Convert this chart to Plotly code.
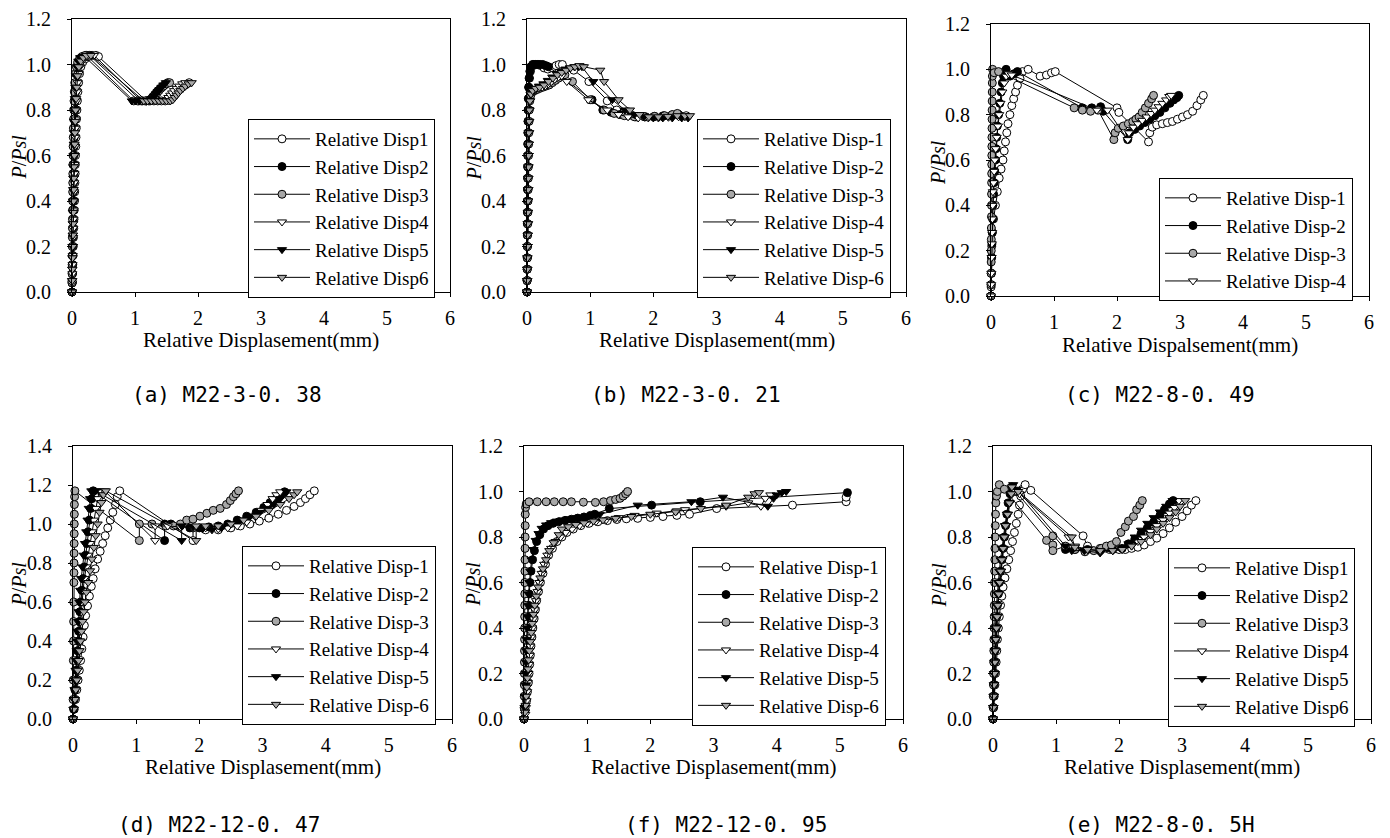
import plotly.graph_objects as go

# ---------------- data ----------------
# Panel (a) M22-3-0.38 : (x = relative displacement mm, y = P/Psl)
A1 = [(0,0),(0.004,0.04),(0.008,0.08),(0.012,0.12),(0.016,0.16),(0.02,0.2),(0.024,0.24),(0.028,0.28),(0.032,0.32),(0.036,0.36),(0.04,0.4),(0.043,0.44),(0.046,0.48),(0.05,0.52),(0.053,0.56),(0.056,0.6),(0.06,0.64),(0.064,0.68),(0.068,0.72),(0.072,0.76),(0.078,0.8),(0.085,0.84),(0.094,0.88),(0.105,0.92),(0.12,0.96),(0.14,0.99),(0.17,1.01),(0.21,1.025),(0.26,1.035),(0.32,1.04),(0.38,1.04),(0.42,1.035),(1.18,0.84),(1.24,0.84),(1.3,0.84),(1.36,0.84),(1.42,0.84),(1.48,0.84),(1.54,0.842),(1.58,0.85),(1.61,0.86),(1.64,0.87),(1.67,0.88),(1.71,0.89),(1.75,0.9),(1.8,0.91),(1.86,0.92)]
A2 = [(0,0),(0.002,0.04),(0.004,0.08),(0.006,0.12),(0.008,0.16),(0.01,0.2),(0.012,0.24),(0.014,0.28),(0.016,0.32),(0.018,0.36),(0.02,0.4),(0.022,0.44),(0.024,0.48),(0.026,0.52),(0.028,0.56),(0.03,0.6),(0.032,0.64),(0.035,0.68),(0.038,0.72),(0.042,0.76),(0.046,0.8),(0.05,0.84),(0.056,0.88),(0.064,0.92),(0.075,0.96),(0.09,0.99),(0.11,1.01),(0.14,1.025),(0.18,1.035),(0.23,1.04),(0.28,1.04),(1.06,0.84),(1.12,0.84),(1.18,0.84),(1.23,0.843),(1.26,0.85),(1.29,0.86),(1.32,0.87),(1.35,0.88),(1.39,0.89),(1.43,0.9),(1.47,0.91),(1.52,0.92)]
A3 = [(0,0),(0.001,0.04),(0.002,0.08),(0.003,0.12),(0.004,0.16),(0.005,0.2),(0.006,0.24),(0.007,0.28),(0.008,0.32),(0.009,0.36),(0.01,0.4),(0.011,0.44),(0.012,0.48),(0.013,0.52),(0.014,0.56),(0.016,0.6),(0.018,0.64),(0.02,0.68),(0.022,0.72),(0.025,0.76),(0.028,0.8),(0.032,0.84),(0.037,0.88),(0.044,0.92),(0.055,0.96),(0.07,0.99),(0.09,1.01),(0.12,1.025),(0.16,1.035),(0.21,1.04),(0.25,1.035),(0.98,0.84),(1.04,0.84),(1.1,0.84),(1.16,0.84),(1.22,0.84),(1.26,0.845),(1.29,0.855),(1.32,0.865),(1.35,0.875),(1.38,0.885),(1.41,0.895),(1.45,0.905),(1.5,0.915),(1.55,0.92)]
A4 = [(0,0),(0.003,0.04),(0.006,0.08),(0.009,0.12),(0.012,0.16),(0.015,0.2),(0.018,0.24),(0.021,0.28),(0.024,0.32),(0.027,0.36),(0.03,0.4),(0.033,0.44),(0.036,0.48),(0.039,0.52),(0.042,0.56),(0.045,0.6),(0.048,0.64),(0.052,0.68),(0.056,0.72),(0.06,0.76),(0.065,0.8),(0.072,0.84),(0.08,0.88),(0.09,0.92),(0.105,0.96),(0.125,0.99),(0.15,1.01),(0.19,1.025),(0.24,1.035),(0.3,1.04),(0.35,1.04),(1.1,0.84),(1.16,0.84),(1.22,0.84),(1.28,0.84),(1.34,0.84),(1.4,0.84),(1.46,0.84),(1.5,0.845),(1.53,0.855),(1.56,0.865),(1.59,0.875),(1.62,0.885),(1.66,0.895),(1.7,0.905),(1.75,0.915),(1.8,0.92)]
A5 = [(0,0),(0.002,0.05),(0.004,0.1),(0.006,0.15),(0.008,0.2),(0.01,0.25),(0.012,0.3),(0.014,0.35),(0.016,0.4),(0.018,0.45),(0.02,0.5),(0.022,0.55),(0.024,0.6),(0.027,0.65),(0.03,0.7),(0.034,0.75),(0.039,0.8),(0.045,0.85),(0.053,0.9),(0.065,0.95),(0.08,0.99),(0.1,1.015),(0.13,1.03),(0.17,1.035),(0.2,1.035),(0.95,0.84),(1.01,0.84),(1.07,0.84),(1.13,0.84),(1.19,0.84),(1.24,0.842),(1.27,0.85),(1.3,0.86),(1.33,0.87),(1.36,0.88),(1.39,0.89),(1.42,0.9),(1.45,0.91),(1.49,0.92)]
A6 = [(0,0),(0.003,0.05),(0.006,0.1),(0.009,0.15),(0.012,0.2),(0.015,0.25),(0.018,0.3),(0.021,0.35),(0.024,0.4),(0.027,0.45),(0.03,0.5),(0.034,0.55),(0.038,0.6),(0.042,0.65),(0.047,0.7),(0.052,0.75),(0.058,0.8),(0.066,0.85),(0.076,0.9),(0.09,0.95),(0.11,0.99),(0.14,1.015),(0.18,1.03),(0.23,1.04),(0.3,1.04),(1.14,0.84),(1.2,0.84),(1.26,0.84),(1.32,0.84),(1.38,0.84),(1.44,0.84),(1.5,0.84),(1.56,0.84),(1.6,0.845),(1.63,0.855),(1.66,0.865),(1.69,0.875),(1.72,0.885),(1.76,0.895),(1.8,0.905),(1.85,0.915),(1.9,0.92)]

# Panel (b) M22-3-0.21
B1 = [(0,0),(0.002,0.05),(0.003,0.1),(0.004,0.15),(0.005,0.2),(0.006,0.25),(0.007,0.3),(0.008,0.35),(0.009,0.4),(0.01,0.45),(0.011,0.5),(0.012,0.55),(0.013,0.6),(0.014,0.65),(0.016,0.7),(0.018,0.75),(0.02,0.8),(0.024,0.85),(0.03,0.9),(0.04,0.94),(0.055,0.97),(0.075,0.99),(0.1,1.0),(0.14,1.0),(0.18,1.0),(0.22,0.995),(0.27,0.985),(0.33,0.98),(0.4,0.985),(0.46,0.995),(0.51,1.0),(0.56,1.0),(0.74,0.975),(0.98,0.925),(1.27,0.84),(1.42,0.8),(1.58,0.78),(1.72,0.77),(1.86,0.77),(2.0,0.77),(2.14,0.772),(2.28,0.775),(2.42,0.775),(2.52,0.775)]
B2 = [(0,0),(0.001,0.05),(0.002,0.1),(0.003,0.15),(0.004,0.2),(0.005,0.25),(0.006,0.3),(0.007,0.35),(0.008,0.4),(0.009,0.45),(0.01,0.5),(0.011,0.55),(0.012,0.6),(0.013,0.65),(0.014,0.7),(0.016,0.75),(0.018,0.8),(0.021,0.85),(0.026,0.9),(0.033,0.94),(0.045,0.97),(0.06,0.99),(0.09,1.0),(0.13,1.0),(0.17,1.0),(0.21,1.0),(0.25,1.0),(0.3,0.995),(0.34,0.99),(1.03,0.845),(1.2,0.8),(1.33,0.79),(1.47,0.78),(1.6,0.775),(1.74,0.77),(1.88,0.77),(2.02,0.772),(2.16,0.775),(2.3,0.778),(2.4,0.78)]
B3 = [(0,0),(0.003,0.05),(0.005,0.1),(0.007,0.15),(0.009,0.2),(0.011,0.25),(0.013,0.3),(0.015,0.35),(0.017,0.4),(0.019,0.45),(0.021,0.5),(0.023,0.55),(0.025,0.6),(0.027,0.65),(0.03,0.7),(0.033,0.75),(0.037,0.8),(0.045,0.84),(0.06,0.865),(0.085,0.88),(0.12,0.885),(0.16,0.89),(0.2,0.895),(0.25,0.9),(0.3,0.905),(0.35,0.91),(0.4,0.92),(0.45,0.93),(0.5,0.94),(0.55,0.95),(0.6,0.955),(0.72,0.925),(1.0,0.845),(1.22,0.8),(1.38,0.785),(1.54,0.775),(1.7,0.77),(1.86,0.77),(2.02,0.772),(2.18,0.775),(2.3,0.78),(2.38,0.785)]
B4 = [(0,0),(0.004,0.05),(0.006,0.1),(0.008,0.15),(0.01,0.2),(0.012,0.25),(0.014,0.3),(0.016,0.35),(0.018,0.4),(0.02,0.45),(0.022,0.5),(0.024,0.55),(0.026,0.6),(0.028,0.65),(0.031,0.7),(0.035,0.75),(0.04,0.8),(0.05,0.84),(0.068,0.87),(0.1,0.885),(0.14,0.89),(0.19,0.895),(0.24,0.9),(0.29,0.905),(0.34,0.915),(0.39,0.925),(0.44,0.935),(0.5,0.945),(0.55,0.95),(0.63,0.925),(0.97,0.845),(1.27,0.8),(1.45,0.78),(1.6,0.77),(1.76,0.765),(1.92,0.765),(2.08,0.765),(2.24,0.768),(2.4,0.77),(2.5,0.77)]
B5 = [(0,0),(0.002,0.05),(0.004,0.1),(0.006,0.15),(0.008,0.2),(0.01,0.25),(0.012,0.3),(0.014,0.35),(0.016,0.4),(0.018,0.45),(0.02,0.5),(0.022,0.55),(0.024,0.6),(0.026,0.65),(0.029,0.7),(0.032,0.75),(0.036,0.8),(0.042,0.84),(0.055,0.87),(0.08,0.885),(0.13,0.895),(0.19,0.905),(0.26,0.915),(0.33,0.93),(0.4,0.945),(0.47,0.96),(0.54,0.97),(0.61,0.98),(0.68,0.985),(0.75,0.99),(0.82,0.99),(0.87,0.99),(1.05,0.925),(1.35,0.845),(1.55,0.8),(1.7,0.78),(1.85,0.77),(2.0,0.765),(2.15,0.765),(2.3,0.765),(2.45,0.765),(2.55,0.765)]
B6 = [(0,0),(0.003,0.05),(0.005,0.1),(0.007,0.15),(0.009,0.2),(0.011,0.25),(0.013,0.3),(0.015,0.35),(0.017,0.4),(0.019,0.45),(0.021,0.5),(0.023,0.55),(0.025,0.6),(0.027,0.65),(0.03,0.7),(0.034,0.75),(0.039,0.8),(0.047,0.84),(0.062,0.87),(0.09,0.885),(0.14,0.895),(0.2,0.9),(0.27,0.91),(0.34,0.925),(0.41,0.94),(0.48,0.955),(0.55,0.965),(0.62,0.975),(0.69,0.985),(0.76,0.99),(0.83,0.995),(0.9,0.99),(1.16,0.975),(1.22,0.925),(1.45,0.845),(1.63,0.8),(1.78,0.78),(1.93,0.77),(2.08,0.77),(2.23,0.772),(2.38,0.775),(2.5,0.775),(2.58,0.775)]

# Panel (c) M22-8-0.49
C1 = [(0,0),(0.002,0.04),(0.004,0.1),(0.008,0.17),(0.012,0.22),(0.02,0.28),(0.04,0.34),(0.07,0.4),(0.1,0.46),(0.13,0.52),(0.16,0.56),(0.19,0.6),(0.21,0.64),(0.23,0.68),(0.25,0.72),(0.27,0.76),(0.3,0.8),(0.33,0.84),(0.36,0.87),(0.39,0.9),(0.42,0.93),(0.46,0.96),(0.5,0.99),(0.59,1.0),(0.78,0.97),(0.88,0.975),(0.96,0.985),(1.02,0.99),(2.0,0.83),(2.03,0.81),(2.5,0.68),(2.52,0.72),(2.56,0.745),(2.63,0.755),(2.72,0.76),(2.8,0.765),(2.88,0.77),(2.96,0.78),(3.04,0.79),(3.12,0.8),(3.2,0.815),(3.27,0.84),(3.33,0.865),(3.37,0.885)]
C2 = [(0,0),(0.003,0.05),(0.006,0.1),(0.01,0.17),(0.015,0.23),(0.02,0.28),(0.025,0.34),(0.03,0.4),(0.04,0.45),(0.05,0.5),(0.06,0.55),(0.07,0.6),(0.08,0.65),(0.09,0.7),(0.1,0.75),(0.12,0.8),(0.14,0.85),(0.16,0.9),(0.18,0.94),(0.2,0.97),(0.22,0.99),(0.24,1.0),(0.3,0.97),(0.36,0.98),(0.42,0.99),(1.45,0.83),(1.6,0.83),(1.74,0.835),(1.78,0.815),(2.17,0.69),(2.2,0.72),(2.28,0.735),(2.36,0.75),(2.44,0.765),(2.52,0.78),(2.6,0.795),(2.68,0.81),(2.76,0.83),(2.84,0.85),(2.9,0.865),(2.95,0.875),(2.98,0.885)]
C3 = [(0,0),(0.001,0.05),(0.002,0.1),(0.003,0.15),(0.004,0.2),(0.005,0.25),(0.006,0.3),(0.007,0.35),(0.008,0.4),(0.009,0.45),(0.01,0.5),(0.011,0.54),(0.012,0.58),(0.013,0.62),(0.014,0.66),(0.015,0.7),(0.016,0.74),(0.017,0.78),(0.018,0.82),(0.019,0.86),(0.02,0.9),(0.021,0.94),(0.022,0.97),(0.025,1.0),(0.05,0.985),(0.12,0.99),(1.32,0.83),(1.45,0.82),(1.58,0.815),(1.7,0.82),(1.95,0.69),(1.97,0.72),(2.02,0.74),(2.1,0.75),(2.18,0.76),(2.25,0.77),(2.3,0.78),(2.35,0.79),(2.4,0.81),(2.45,0.83),(2.5,0.85),(2.55,0.87),(2.58,0.885)]
C4 = [(0,0),(0.003,0.05),(0.006,0.1),(0.01,0.17),(0.014,0.23),(0.018,0.28),(0.022,0.34),(0.026,0.4),(0.03,0.46),(0.04,0.5),(0.05,0.55),(0.06,0.6),(0.075,0.65),(0.09,0.7),(0.11,0.75),(0.13,0.8),(0.15,0.85),(0.18,0.9),(0.21,0.94),(0.24,0.97),(0.28,0.98),(0.33,0.975),(1.68,0.82),(1.85,0.82),(2.17,0.69),(2.19,0.72),(2.26,0.745),(2.33,0.76),(2.4,0.775),(2.47,0.79),(2.54,0.805),(2.6,0.82),(2.66,0.835),(2.72,0.85),(2.78,0.865),(2.83,0.88),(2.86,0.885)]

# Panel (d) M22-12-0.47
D1 = [(0,0),(0.02,0.05),(0.04,0.1),(0.06,0.15),(0.08,0.2),(0.1,0.25),(0.12,0.3),(0.14,0.36),(0.16,0.42),(0.18,0.48),(0.2,0.53),(0.23,0.58),(0.26,0.63),(0.29,0.68),(0.32,0.72),(0.35,0.77),(0.39,0.82),(0.43,0.86),(0.47,0.9),(0.51,0.94),(0.55,0.98),(0.59,1.02),(0.63,1.06),(0.67,1.1),(0.7,1.14),(0.74,1.17),(1.9,0.915),(1.9,0.98),(2.1,0.97),(2.3,0.97),(2.5,0.98),(2.65,0.99),(2.8,1.0),(2.95,1.015),(3.1,1.03),(3.25,1.05),(3.38,1.07),(3.5,1.09),(3.6,1.11),(3.68,1.13),(3.75,1.15),(3.82,1.17)]
D2 = [(0,0),(0.01,0.05),(0.02,0.1),(0.03,0.15),(0.04,0.2),(0.05,0.25),(0.06,0.3),(0.07,0.35),(0.08,0.4),(0.09,0.45),(0.1,0.5),(0.11,0.55),(0.12,0.6),(0.14,0.66),(0.16,0.72),(0.18,0.78),(0.2,0.84),(0.22,0.9),(0.24,0.96),(0.26,1.02),(0.28,1.08),(0.3,1.13),(0.32,1.17),(1.45,0.915),(1.45,1.0),(1.55,1.0),(1.7,0.99),(1.85,0.98),(2.0,0.98),(2.15,0.985),(2.3,0.99),(2.45,1.0),(2.6,1.02),(2.75,1.04),(2.9,1.06),(3.02,1.085),(3.12,1.11),(3.22,1.13),(3.3,1.15),(3.35,1.165)]
D3 = [(0,0),(0.002,0.1),(0.004,0.2),(0.006,0.3),(0.008,0.4),(0.01,0.5),(0.012,0.6),(0.014,0.7),(0.015,0.75),(0.016,0.8),(0.017,0.85),(0.018,0.9),(0.019,0.95),(0.02,1.0),(0.021,1.05),(0.022,1.1),(0.025,1.14),(0.03,1.17),(1.05,0.915),(1.05,1.0),(1.25,1.0),(1.47,0.99),(1.59,0.99),(1.7,1.0),(1.8,1.02),(1.9,1.025),(2.01,1.04),(2.12,1.055),(2.22,1.07),(2.33,1.08),(2.43,1.1),(2.49,1.12),(2.54,1.14),(2.58,1.155),(2.62,1.17)]
D4 = [(0,0),(0.01,0.05),(0.02,0.1),(0.03,0.15),(0.045,0.2),(0.06,0.25),(0.075,0.3),(0.09,0.35),(0.1,0.4),(0.11,0.45),(0.12,0.5),(0.13,0.55),(0.14,0.6),(0.16,0.66),(0.18,0.72),(0.21,0.78),(0.24,0.84),(0.27,0.9),(0.3,0.96),(0.33,1.02),(0.36,1.08),(0.39,1.13),(0.42,1.17),(0.5,1.17),(1.3,0.915),(1.3,0.99),(1.5,0.99),(1.7,0.985),(1.9,0.98),(2.1,0.98),(2.3,0.975),(2.45,0.98),(2.6,0.99),(2.75,1.01),(2.88,1.04),(2.98,1.07),(3.08,1.1),(3.16,1.13),(3.22,1.15),(3.28,1.165)]
D5 = [(0,0),(0.008,0.05),(0.016,0.1),(0.024,0.15),(0.032,0.2),(0.04,0.25),(0.048,0.3),(0.056,0.35),(0.064,0.4),(0.072,0.45),(0.08,0.5),(0.09,0.55),(0.1,0.6),(0.115,0.66),(0.13,0.72),(0.15,0.78),(0.17,0.84),(0.19,0.9),(0.21,0.96),(0.23,1.02),(0.25,1.08),(0.27,1.13),(0.29,1.17),(0.36,1.17),(1.72,0.915),(1.72,0.99),(1.9,0.985),(2.05,0.975),(2.2,0.97),(2.35,0.98),(2.5,1.0),(2.65,1.02),(2.8,1.04),(2.95,1.06),(3.08,1.08),(3.18,1.1),(3.28,1.13),(3.38,1.165)]
D6 = [(0,0),(0.015,0.05),(0.03,0.1),(0.045,0.15),(0.06,0.2),(0.075,0.25),(0.09,0.3),(0.105,0.35),(0.12,0.4),(0.135,0.45),(0.15,0.5),(0.17,0.55),(0.19,0.6),(0.21,0.65),(0.24,0.7),(0.27,0.76),(0.3,0.82),(0.33,0.88),(0.36,0.94),(0.39,1.0),(0.42,1.06),(0.45,1.11),(0.48,1.15),(0.52,1.17),(1.95,0.915),(1.95,0.99),(2.1,0.99),(2.3,0.99),(2.5,1.0),(2.7,1.02),(2.9,1.04),(3.1,1.07),(3.28,1.1),(3.42,1.13),(3.5,1.15),(3.55,1.165)]

# Panel (f) M22-12-0.95
F1 = [(0,0),(0.02,0.04),(0.04,0.08),(0.055,0.12),(0.07,0.16),(0.08,0.2),(0.09,0.24),(0.1,0.28),(0.11,0.32),(0.125,0.36),(0.14,0.4),(0.16,0.44),(0.18,0.48),(0.2,0.52),(0.23,0.56),(0.26,0.6),(0.3,0.64),(0.34,0.68),(0.39,0.72),(0.45,0.75),(0.52,0.78),(0.6,0.8),(0.68,0.82),(0.78,0.835),(0.9,0.85),(1.03,0.86),(1.17,0.867),(1.32,0.872),(1.47,0.877),(1.62,0.88),(1.8,0.882),(2.0,0.886),(2.2,0.89),(2.42,0.895),(2.62,0.9),(3.05,0.925),(4.25,0.94),(5.1,0.955),(5.1,0.975)]
F2 = [(0,0),(0.01,0.05),(0.02,0.1),(0.025,0.15),(0.03,0.2),(0.035,0.25),(0.04,0.3),(0.045,0.35),(0.05,0.4),(0.06,0.45),(0.07,0.5),(0.08,0.55),(0.095,0.6),(0.11,0.65),(0.135,0.7),(0.165,0.74),(0.2,0.78),(0.25,0.81),(0.31,0.835),(0.38,0.85),(0.46,0.86),(0.55,0.867),(0.65,0.873),(0.75,0.878),(0.85,0.883),(0.95,0.888),(1.05,0.895),(1.12,0.9),(1.35,0.925),(2.02,0.94),(2.79,0.955),(5.12,0.995)]
F3 = [(0,0),(0.002,0.05),(0.004,0.1),(0.005,0.15),(0.006,0.2),(0.007,0.25),(0.008,0.3),(0.009,0.35),(0.01,0.4),(0.011,0.45),(0.012,0.5),(0.013,0.55),(0.014,0.6),(0.015,0.65),(0.016,0.7),(0.017,0.75),(0.018,0.8),(0.019,0.85),(0.02,0.9),(0.025,0.93),(0.035,0.945),(0.08,0.955),(0.21,0.955),(0.35,0.955),(0.48,0.955),(0.62,0.955),(0.75,0.955),(0.94,0.953),(1.13,0.952),(1.26,0.955),(1.37,0.96),(1.45,0.965),(1.52,0.97),(1.57,0.98),(1.61,0.99),(1.64,1.0)]
F4 = [(0,0),(0.02,0.02),(0.03,0.05),(0.04,0.08),(0.05,0.12),(0.06,0.16),(0.07,0.2),(0.08,0.24),(0.09,0.28),(0.1,0.32),(0.115,0.36),(0.13,0.4),(0.15,0.44),(0.17,0.48),(0.19,0.52),(0.215,0.56),(0.245,0.6),(0.28,0.64),(0.32,0.68),(0.37,0.72),(0.43,0.75),(0.5,0.78),(0.58,0.8),(0.66,0.82),(0.76,0.835),(0.88,0.85),(1.0,0.86),(1.14,0.868),(1.3,0.875),(1.5,0.885),(1.75,0.895),(2.1,0.905),(2.42,0.915),(2.55,0.92),(3.2,0.935),(3.55,0.95),(3.75,0.935),(3.82,0.97),(3.9,0.985)]
F5 = [(0,0),(0.008,0.05),(0.016,0.1),(0.022,0.15),(0.027,0.2),(0.032,0.25),(0.037,0.3),(0.042,0.35),(0.048,0.4),(0.055,0.45),(0.063,0.5),(0.072,0.55),(0.085,0.6),(0.1,0.65),(0.12,0.7),(0.15,0.745),(0.185,0.785),(0.23,0.815),(0.28,0.838),(0.35,0.853),(0.43,0.863),(0.52,0.87),(0.62,0.875),(0.72,0.88),(0.85,0.885),(1.0,0.89),(1.2,0.9),(1.8,0.94),(2.65,0.955),(3.15,0.975),(3.86,0.935),(3.95,0.97),(4.0,0.985),(4.08,0.995),(4.15,1.0)]
F6 = [(0,0),(0.015,0.03),(0.025,0.06),(0.035,0.1),(0.045,0.14),(0.055,0.18),(0.065,0.22),(0.075,0.26),(0.085,0.3),(0.1,0.34),(0.115,0.38),(0.13,0.42),(0.15,0.46),(0.17,0.5),(0.195,0.54),(0.225,0.58),(0.26,0.62),(0.3,0.66),(0.35,0.7),(0.4,0.74),(0.47,0.775),(0.55,0.81),(0.6,0.835),(0.7,0.845),(0.82,0.855),(0.95,0.862),(1.1,0.87),(1.25,0.875),(1.45,0.882),(1.7,0.89),(2.0,0.9),(2.4,0.91),(2.8,0.925),(3.2,0.94),(3.55,0.975),(3.65,0.99),(3.72,0.995)]

# Panel (e) M22-8-0.5H
E1 = [(0,0),(0.01,0.05),(0.02,0.1),(0.03,0.15),(0.04,0.2),(0.05,0.25),(0.06,0.3),(0.07,0.35),(0.085,0.4),(0.1,0.45),(0.12,0.5),(0.14,0.54),(0.16,0.58),(0.19,0.62),(0.22,0.66),(0.25,0.7),(0.28,0.74),(0.31,0.78),(0.34,0.82),(0.37,0.86),(0.4,0.9),(0.42,0.94),(0.44,0.98),(0.47,1.01),(0.51,1.03),(0.6,1.005),(1.43,0.805),(1.5,0.76),(1.7,0.75),(1.85,0.745),(2.0,0.745),(2.1,0.745),(2.2,0.75),(2.3,0.755),(2.4,0.765),(2.5,0.78),(2.6,0.795),(2.7,0.815),(2.8,0.84),(2.9,0.865),(3.0,0.89),(3.08,0.915),(3.15,0.94),(3.22,0.96)]
E2 = [(0,0),(0.005,0.05),(0.01,0.1),(0.015,0.15),(0.02,0.2),(0.025,0.25),(0.03,0.3),(0.04,0.35),(0.05,0.4),(0.06,0.45),(0.07,0.5),(0.085,0.55),(0.1,0.6),(0.12,0.65),(0.14,0.7),(0.16,0.75),(0.18,0.8),(0.2,0.85),(0.22,0.9),(0.24,0.95),(0.27,0.99),(0.3,1.02),(0.36,1.0),(1.15,0.745),(1.3,0.745),(1.5,0.745),(1.7,0.74),(1.9,0.745),(2.05,0.75),(2.15,0.77),(2.25,0.79),(2.35,0.815),(2.45,0.84),(2.55,0.865),(2.65,0.895),(2.72,0.92),(2.8,0.945),(2.86,0.96)]
E3 = [(0,0),(0.003,0.05),(0.005,0.1),(0.007,0.15),(0.009,0.2),(0.011,0.25),(0.013,0.3),(0.015,0.35),(0.017,0.4),(0.019,0.45),(0.021,0.5),(0.023,0.55),(0.025,0.6),(0.027,0.65),(0.029,0.7),(0.031,0.75),(0.033,0.8),(0.036,0.85),(0.04,0.9),(0.045,0.95),(0.055,0.98),(0.07,1.0),(0.1,1.03),(0.18,1.01),(0.85,0.785),(0.95,0.805),(0.95,0.765),(0.95,0.74),(1.15,0.76),(1.3,0.745),(1.46,0.735),(1.6,0.74),(1.72,0.75),(1.8,0.76),(1.88,0.765),(1.96,0.78),(2.03,0.82),(2.1,0.845),(2.15,0.87),(2.23,0.89),(2.28,0.92),(2.33,0.94),(2.37,0.96)]
E4 = [(0,0),(0.007,0.05),(0.014,0.1),(0.021,0.15),(0.028,0.2),(0.035,0.25),(0.042,0.3),(0.05,0.35),(0.06,0.4),(0.07,0.45),(0.08,0.5),(0.095,0.55),(0.11,0.6),(0.13,0.65),(0.15,0.7),(0.17,0.75),(0.19,0.8),(0.21,0.85),(0.24,0.9),(0.27,0.95),(0.3,0.99),(0.35,1.0),(0.42,0.99),(1.2,0.8),(1.3,0.76),(1.5,0.745),(1.7,0.74),(1.9,0.74),(2.05,0.745),(2.2,0.76),(2.3,0.78),(2.4,0.8),(2.5,0.825),(2.6,0.85),(2.7,0.875),(2.8,0.905),(2.88,0.93),(2.95,0.96)]
E5 = [(0,0),(0.004,0.05),(0.008,0.1),(0.012,0.15),(0.016,0.2),(0.02,0.25),(0.025,0.3),(0.03,0.35),(0.037,0.4),(0.045,0.45),(0.055,0.5),(0.067,0.55),(0.08,0.6),(0.1,0.65),(0.12,0.7),(0.14,0.75),(0.165,0.8),(0.19,0.85),(0.22,0.9),(0.25,0.95),(0.28,0.99),(0.32,1.03),(0.38,1.01),(1.15,0.76),(1.25,0.74),(1.45,0.74),(1.7,0.73),(1.9,0.74),(2.05,0.75),(2.15,0.77),(2.25,0.8),(2.35,0.83),(2.45,0.86),(2.55,0.885),(2.65,0.91),(2.75,0.935),(2.85,0.96)]
E6 = [(0,0),(0.006,0.05),(0.012,0.1),(0.018,0.15),(0.024,0.2),(0.03,0.25),(0.037,0.3),(0.045,0.35),(0.055,0.4),(0.065,0.45),(0.076,0.5),(0.09,0.55),(0.105,0.6),(0.12,0.65),(0.14,0.7),(0.16,0.75),(0.18,0.8),(0.2,0.85),(0.23,0.9),(0.26,0.95),(0.29,0.99),(0.3,1.02),(0.4,1.0),(1.25,0.8),(1.3,0.755),(1.5,0.745),(1.7,0.74),(1.9,0.74),(2.05,0.745),(2.2,0.76),(2.35,0.78),(2.5,0.81),(2.6,0.835),(2.7,0.86),(2.8,0.885),(2.9,0.91),(2.97,0.935),(3.05,0.96)]

NAMES_PLAIN = ["Relative Disp1", "Relative Disp2", "Relative Disp3",
               "Relative Disp4", "Relative Disp5", "Relative Disp6"]
NAMES_DASH = ["Relative Disp-1", "Relative Disp-2", "Relative Disp-3",
              "Relative Disp-4", "Relative Disp-5", "Relative Disp-6"]
X_TICKS = [0, 1, 2, 3, 4, 5, 6]
Y_TICKS_12 = [0.0, 0.2, 0.4, 0.6, 0.8, 1.0, 1.2]
Y_TICKS_14 = [0.0, 0.2, 0.4, 0.6, 0.8, 1.0, 1.2, 1.4]

# ---------------- styling / layout ----------------
W, H = 1390, 838
OFF = 8  # page body margin: the figure is drawn 8px in from the window's corner
SERIF = "Liberation Serif, Times New Roman, serif"
MONO = "DejaVu Sans Mono, monospace"
SYMBOLS = ["circle", "circle", "circle", "triangle-down", "triangle-down", "triangle-down"]
FILLS = ["white", "black", "#a8a8a8", "white", "black", "#a8a8a8"]


def PX(px):
    return (px - OFF) / W


def PY(py):
    return 1 - (py - OFF) / H


PANELS = [
    dict(series=[A1, A2, A3, A4, A5, A6], names=NAMES_PLAIN, box=(72, 450, 19, 292), yticks=Y_TICKS_12,
         leg=(248, 119), xtitle="Relative Displasement(mm)", xt_y=340, yt_x=18,
         caption="(a) M22-3-0. 38", cap=(227, 395)),
    dict(series=[B1, B2, B3, B4, B5, B6], names=NAMES_DASH, box=(527, 906, 19, 292), yticks=Y_TICKS_12,
         leg=(697, 119), xtitle="Relative Displasement(mm)", xt_y=340, yt_x=473,
         caption="(b) M22-3-0. 21", cap=(686, 395)),
    dict(series=[C1, C2, C3, C4], names=NAMES_DASH[:4], box=(991, 1369, 24, 296), yticks=Y_TICKS_12,
         leg=(1159, 178), xtitle="Relative Dispalsement(mm)", xt_y=345, yt_x=938,
         caption="(c) M22-8-0. 49", cap=(1160, 395)),
    dict(series=[D1, D2, D3, D4, D5, D6], names=NAMES_DASH, box=(73, 452, 446, 719), yticks=Y_TICKS_14,
         leg=(242, 546), xtitle="Relative Displasement(mm)", xt_y=767, yt_x=18,
         caption="(d) M22-12-0. 47", cap=(219, 825)),
    dict(series=[F1, F2, F3, F4, F5, F6], names=NAMES_DASH, box=(524, 903, 446, 719), yticks=Y_TICKS_12,
         leg=(692, 547), xtitle="Relactive Displasement(mm)", xt_y=767, yt_x=472,
         caption="(f) M22-12-0. 95", cap=(726, 825)),
    dict(series=[E1, E2, E3, E4, E5, E6], names=NAMES_PLAIN, box=(993, 1371, 446, 719), yticks=Y_TICKS_12,
         leg=(1168, 548), xtitle="Relative Displasement(mm)", xt_y=767, yt_x=938,
         caption="(e) M22-8-0. 5H", cap=(1160, 825)),
]

fig = go.Figure()
layout = dict(width=W, height=H, margin=dict(l=0, r=0, t=0, b=0, autoexpand=False),
              paper_bgcolor="white", plot_bgcolor="white", showlegend=True)
annotations = []

for i, p in enumerate(PANELS):
    n = i + 1
    xa = "x" if n == 1 else f"x{n}"
    ya = "y" if n == 1 else f"y{n}"
    lg = "legend" if n == 1 else f"legend{n}"
    x0, x1, yt, yb = p["box"]
    for k, pts in enumerate(p["series"]):
        fig.add_trace(go.Scatter(
            x=[q[0] for q in pts], y=[q[1] for q in pts],
            mode="lines+markers", name=p["names"][k],
            xaxis=xa, yaxis=ya, legend=lg, cliponaxis=False,
            line=dict(color="black", width=1),
            marker=dict(symbol=SYMBOLS[k], size=8, color=FILLS[k],
                        line=dict(color="black", width=1)),
        ))
    tf = dict(family=SERIF, size=20, color="black")
    layout[f"xaxis{'' if n == 1 else n}"] = dict(
        domain=[PX(x0), PX(x1)], anchor=ya, range=[0, 6], tickmode="array", tickvals=X_TICKS,
        ticktext=[str(v) for v in X_TICKS], ticklabelstandoff=4, automargin=False,
        showline=True, linecolor="black", linewidth=1, mirror=True,
        showgrid=False, zeroline=False, ticks="outside", ticklen=4,
        tickcolor="black", tickfont=tf)
    yt_vals = p["yticks"]
    layout[f"yaxis{'' if n == 1 else n}"] = dict(
        domain=[PY(yb), PY(yt)], anchor=xa, range=[0, yt_vals[-1]],
        tickmode="array", tickvals=yt_vals, ticktext=[f"{v:.1f}" for v in yt_vals],
        ticklabelstandoff=12, automargin=False,
        showline=True, linecolor="black", linewidth=1, mirror=True,
        showgrid=False, zeroline=False, ticks="outside", ticklen=4,
        tickcolor="black", tickfont=tf)
    lx, ly = p["leg"]
    layout[lg] = dict(x=PX(lx), y=PY(ly), xanchor="left", yanchor="top",
                      bgcolor="white", bordercolor="black", borderwidth=1,
                      font=dict(family=SERIF, size=19, color="black"),
                      itemwidth=56, tracegroupgap=0)
    cx = (x0 + x1) / 2
    annotations.append(dict(text=p["xtitle"], x=PX(cx), y=PY(p["xt_y"]), xref="paper", yref="paper",
                            xanchor="center", yanchor="middle", showarrow=False,
                            font=dict(family=SERIF, size=21, color="black")))
    annotations.append(dict(text="<i>P</i>/<i>Psl</i>", x=PX(p["yt_x"]), y=PY((yt + yb) / 2 + 2),
                            xref="paper", yref="paper", xanchor="center", yanchor="middle",
                            textangle=-90, showarrow=False,
                            font=dict(family=SERIF, size=20, color="black")))
    cxp, cyp = p["cap"]
    annotations.append(dict(text=p["caption"], x=PX(cxp), y=PY(cyp), xref="paper", yref="paper",
                            xanchor="center", yanchor="middle", showarrow=False,
                            font=dict(family=MONO, size=21, color="black")))

layout["annotations"] = annotations
fig.update_layout(**layout)
fig.write_html("out.html")
